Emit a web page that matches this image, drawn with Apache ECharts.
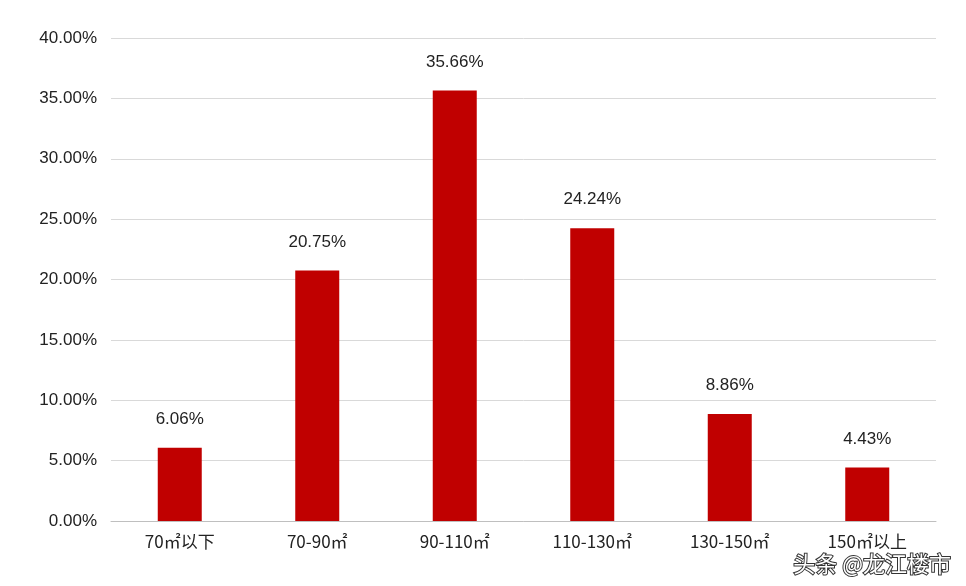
<!DOCTYPE html>
<html>
<head>
<meta charset="utf-8">
<script src="https://cdn.jsdelivr.net/npm/echarts@6/dist/echarts.min.js"></script>
<style>html,body{margin:0;padding:0;background:#fff}#chart{width:966px;height:586px}</style>
</head>
<body>
<div id="chart"></div>
<script>
const categories = ['70㎡以下', '70-90㎡', '90-110㎡', '110-130㎡', '130-150㎡', '150㎡以上'];
const shares = [6.06, 20.75, 35.66, 24.24, 8.86, 4.43];

const chart = echarts.init(document.getElementById('chart'));
chart.setOption({
    animation: false,
    grid: { left: 111, right: 30, top: 38, bottom: 65 },
    xAxis: {
        type: 'category',
        data: categories,
        axisLine: { lineStyle: { color: '#bfbfbf' } },
        axisTick: { show: false },
        axisLabel: { color: '#222', fontSize: 17, margin: 12, fontFamily: 'Noto Sans CJK SC' }
    },
    yAxis: {
        type: 'value',
        min: 0, max: 40, interval: 5,
        axisLine: { show: false },
        axisTick: { show: false },
        splitLine: { lineStyle: { color: '#d9d9d9' } },
        axisLabel: { color: '#222', fontSize: 17, margin: 14, formatter: v => v.toFixed(2) + '%' }
    },
    series: [{
        type: 'bar',
        data: shares,
        barWidth: 44,
        itemStyle: { color: '#c00000' },
        label: {
            show: true, position: 'top', distance: 20,
            color: '#222', fontSize: 17,
            formatter: p => p.value.toFixed(2) + '%'
        }
    }],
    graphic: [{
        type: 'text', right: 14, bottom: 10,
        style: { text: '头条 @龙江楼市', fontSize: 22, fill: '#fff', stroke: '#333', lineWidth: 2, fontFamily: 'Noto Sans CJK SC' }
    }]
});
</script>
</body>
</html>
